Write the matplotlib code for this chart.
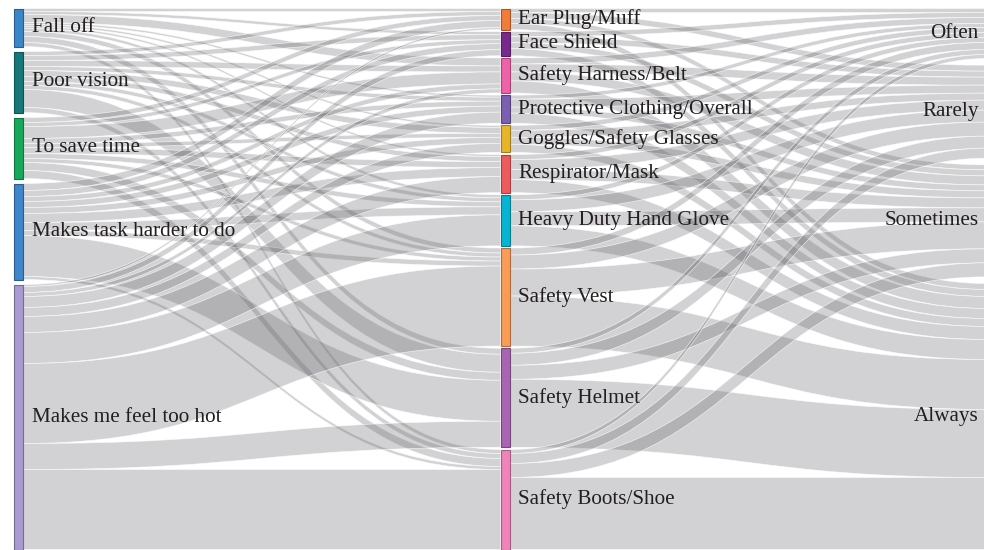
import numpy as np
import matplotlib
matplotlib.use("Agg")
import matplotlib.pyplot as plt
from matplotlib import rcParams
from matplotlib.path import Path
from matplotlib.patches import PathPatch, Rectangle
from matplotlib.colors import to_rgb

rcParams['font.family'] = ['Liberation Serif', 'DejaVu Serif']

FONT_SIZE = 15.2

# Column 1: reasons for not using PPE
reasons = ["Fall off", "Poor vision", "To save time",
           "Makes task harder to do", "Makes me feel too hot"]
# Column 2: PPE items
ppe = ["Ear Plug/Muff", "Face Shield", "Safety Harness/Belt",
       "Protective Clothing/Overall", "Goggles/Safety Glasses",
       "Respirator/Mask", "Heavy Duty Hand Glove", "Safety Vest",
       "Safety Helmet", "Safety Boots/Shoe"]
# Column 3: frequency of use
freq = ["Often", "Rarely", "Sometimes", "Always"]

# reason -> PPE (one list per reason, in ppe order)
fall_off = [3, 3, 8, 2, 2, 2, 3, 5, 6, 4]
poor_vision = [4, 5, 6, 4, 6, 5, 4, 4, 18, 5]
save_time = [5, 4, 12, 5, 4, 6, 5, 4, 8, 8]
task_harder = [7, 6, 5, 6, 6, 9, 8, 5, 41, 3]
too_hot = [2, 6, 4, 11, 9, 16, 31, 80, 26, 80]

# PPE -> frequency (one list per frequency, in ppe order)
often = [4, 5, 6, 4, 5, 5, 5, 7, 5, 4]
rarely = [6, 6, 8, 8, 7, 10, 12, 14, 12, 10]
sometimes = [5, 6, 9, 6, 7, 10, 14, 27, 14, 14]
always = [6, 7, 12, 10, 8, 13, 20, 50, 68, 72]

reason_colors = ["#3b86c9", "#16787a", "#17a95b", "#3f87ca", "#a99bd2"]
ppe_colors = ["#f27c3a", "#782a8c", "#ee62a8", "#7b5fb1", "#e7b52b",
              "#ee5b5d", "#08b4d1", "#f99c58", "#a866b2", "#ef84ba"]
freq_colors = ["#999999"] * 4


def darker(c, f=0.7):
    r, g, b = to_rgb(c)
    return (r * f, g * f, b * f)


def layout(values, top, bottom):
    # stack nodes, spread the padding so the column fills the height
    values = np.asarray(values, dtype=float)
    pad = (bottom - top - values.sum()) / (len(values) - 1)
    y0 = top + np.concatenate([[0], np.cumsum(values[:-1] + pad)])
    return y0, y0 + values


def band(ax, x0, a0, b0, x1, a1, b1):
    xm = (x0 + x1) / 2.0
    verts = [(x0, a0), (xm, a0), (xm, a1), (x1, a1),
             (x1, b1), (xm, b1), (xm, b0), (x0, b0), (x0, a0)]
    codes = [Path.MOVETO, Path.CURVE4, Path.CURVE4, Path.CURVE4,
             Path.LINETO, Path.CURVE4, Path.CURVE4, Path.CURVE4,
             Path.CLOSEPOLY]
    ax.add_patch(PathPatch(Path(verts, codes), facecolor=(0.40, 0.40, 0.42, 0.29),
                           edgecolor=(1, 1, 1, 0.7), linewidth=0.5))


def draw_links(ax, flows, src_y0, dst_y0, x0, x1):
    n_src, n_dst = flows.shape
    out_off = src_y0.copy()
    in_off = dst_y0.copy()
    # incoming offsets follow source order, outgoing follow target order
    in_start = np.zeros_like(flows)
    for j in range(n_dst):
        for i in range(n_src):
            in_start[i, j] = in_off[j]
            in_off[j] += flows[i, j]
    for i in range(n_src):
        for j in range(n_dst):
            v = flows[i, j]
            if v <= 0:
                continue
            a0 = out_off[i]
            out_off[i] += v
            a1 = in_start[i, j]
            band(ax, x0, a0, a0 + v, x1, a1, a1 + v)


def main():
    W, H = 984, 550
    fig = plt.figure(figsize=(W / 100, H / 100), dpi=100)
    ax = fig.add_axes([0, 0, 1, 1])
    ax.set_xlim(0, W)
    ax.set_ylim(H, 0)
    ax.axis('off')

    m1 = np.array([fall_off, poor_vision, save_time, task_harder, too_hot], dtype=float)
    m2 = np.array([often, rarely, sometimes, always], dtype=float).T

    top, bottom = 8.5, 549.5
    node_w = 9
    xs = [13.5, 500.5, 987.5]

    y_r0, y_r1 = layout(m1.sum(axis=1), top, bottom)
    y_p0, y_p1 = layout(np.maximum(m1.sum(axis=0), m2.sum(axis=1)), top, bottom)
    y_f0, y_f1 = layout(m2.sum(axis=0), top, bottom)

    draw_links(ax, m1, y_r0, y_p0, xs[0] + node_w, xs[1])
    draw_links(ax, m2, y_p0, y_f0, xs[1] + node_w, xs[2])

    cols = [(reasons, reason_colors, y_r0, y_r1),
            (ppe, ppe_colors, y_p0, y_p1),
            (freq, freq_colors, y_f0, y_f1)]
    for k, (labels, colors, y0, y1) in enumerate(cols):
        for lab, c, a, b in zip(labels, colors, y0, y1):
            ax.add_patch(Rectangle((xs[k], a), node_w, b - a, facecolor=c,
                                   edgecolor=darker(c), linewidth=0.8))
            yc = (a + b) / 2.0
            if k < 2:
                ax.text(xs[k] + node_w + 9, yc, lab, ha='left', va='center',
                        fontsize=FONT_SIZE, color='#231f20')
            else:
                ax.text(xs[k] - 9, yc, lab, ha='right', va='center',
                        fontsize=FONT_SIZE, color='#231f20')

    fig.savefig("out.png", dpi=100)


if __name__ == "__main__":
    main()
